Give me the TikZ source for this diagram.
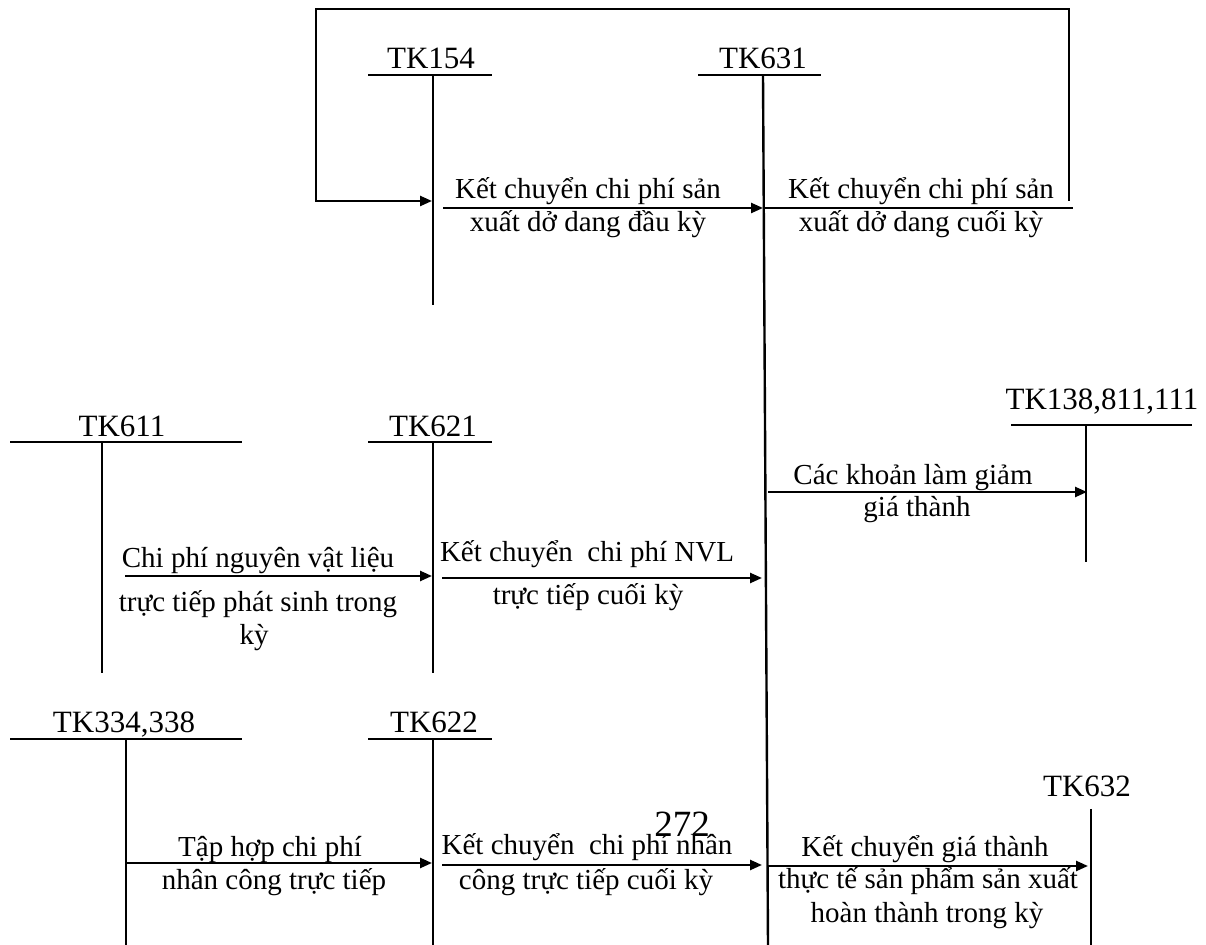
\documentclass[tikz,border=0pt]{standalone}
\usepackage{fontspec}
\setmainfont{Liberation Serif}
\usetikzlibrary{arrows.meta}
\begin{document}
\begin{tikzpicture}[x=0.5pt,y=-0.5pt,
  ln/.style={line width=1.2pt},
  arr/.style={line width=1.2pt,-{Triangle[length=6pt,width=5pt]}},
  acc/.style={anchor=base,inner sep=0pt,font=\fontsize{15.5}{18}\selectfont},
  lbl/.style={anchor=base,inner sep=0pt,font=\fontsize{14.5}{17}\selectfont},
  pg/.style={anchor=base,inner sep=0pt,font=\fontsize{18.5}{21}\selectfont}]
\useasboundingbox (0,0) rectangle (1206,945);

% ---- account labels ----
\node[acc] (l154) at (431,69) {TK154};
\node[acc] (l631) at (763,69) {TK631};
\node[acc] (l611) at (122,437) {TK611};
\node[acc] (l621) at (433,437) {TK621};
\node[acc] (l138) at (1102,410) {TK138,811,111};
\node[acc] (l334) at (124,733) {TK334,338};
\node[acc] (l622) at (434,733) {TK622};
\node[acc] (l632) at (1087,797) {TK632};
\node[pg] (p272) at (682,837) {272};

% ---- T-account lines ----
\coordinate (h154a) at (368,75);  \coordinate (h154b) at (492,75);
\coordinate (v154t) at (433,75);  \coordinate (v154b) at (433,305);
\coordinate (h631a) at (698,75);  \coordinate (h631b) at (821,75);
\coordinate (v631t) at (763,75);  \coordinate (v631b) at (768,945);
\coordinate (h611a) at (10,442);  \coordinate (h611b) at (242,442);
\coordinate (v611t) at (102,442); \coordinate (v611b) at (102,673);
\coordinate (h621a) at (368,442); \coordinate (h621b) at (492,442);
\coordinate (v621t) at (433,442); \coordinate (v621b) at (433,673);
\coordinate (h138a) at (1011,425); \coordinate (h138b) at (1192,425);
\coordinate (v138t) at (1086,425); \coordinate (v138b) at (1086,562);
\coordinate (h334a) at (10,739);  \coordinate (h334b) at (242,739);
\coordinate (v334t) at (126,739); \coordinate (v334b) at (126,945);
\coordinate (h622a) at (368,739); \coordinate (h622b) at (492,739);
\coordinate (v622t) at (433,739); \coordinate (v622b) at (433,945);
\coordinate (v632t) at (1091,809); \coordinate (v632b) at (1091,945);

\foreach \a in {154,631,611,621,138,334,622}{
  \draw[ln] (h\a a) -- (h\a b);
  \draw[ln] (v\a t) -- (v\a b);
}
\draw[ln] (v632t) -- (v632b);

% ---- connectors ----
\coordinate (lpR) at (1069,201); \coordinate (lpRT) at (1069,9);
\coordinate (lpLT) at (316,9);   \coordinate (lpL) at (316,201);
\coordinate (lpE) at (432,201);
\draw[arr] (lpR) -- (lpRT) -- (lpLT) -- (lpL) -- (lpE);

\coordinate (a1s) at (443,208); \coordinate (a1e) at (763,208);
\draw[arr] (a1s) -- (a1e);
\coordinate (a2e) at (1073,208);
\draw[ln] (a1e) -- (a2e);

\coordinate (a3s) at (125,576); \coordinate (a3e) at (432,576);
\draw[arr] (a3s) -- (a3e);
\coordinate (a4s) at (442,578); \coordinate (a4e) at (762,578);
\draw[arr] (a4s) -- (a4e);
\coordinate (a5s) at (768,492); \coordinate (a5e) at (1087,492);
\draw[arr] (a5s) -- (a5e);
\coordinate (a6s) at (126,863); \coordinate (a6e) at (432,863);
\draw[arr] (a6s) -- (a6e);
\coordinate (a7s) at (442,865); \coordinate (a7e) at (762,865);
\draw[arr] (a7s) -- (a7e);
\coordinate (a8s) at (768,866); \coordinate (a8e) at (1088,866);
\draw[arr] (a8s) -- (a8e);

% ---- connector labels ----
\node[lbl] (t1a) at (588,199) {Kết chuyển chi phí sản};
\node[lbl] (t1b) at (588,232) {xuất dở dang đầu kỳ};
\node[lbl] (t2a) at (921,199) {Kết chuyển chi phí sản};
\node[lbl] (t2b) at (921,232) {xuất dở dang cuối kỳ};
\node[lbl] (t3a) at (258,568) {Chi phí nguyên vật liệu};
\node[lbl] (t3b) at (258,612) {trực tiếp phát sinh trong};
\node[lbl] (t3c) at (254,645) {kỳ};
\node[lbl] (t4a) at (587,562) {Kết chuyển\ \ chi phí NVL};
\node[lbl] (t4b) at (588,605) {trực tiếp cuối kỳ};
\node[lbl] (t5a) at (913,485) {Các khoản làm giảm};
\node[lbl] (t5b) at (917,517) {giá thành};
\node[lbl] (t6a) at (270,857) {Tập hợp chi phí};
\node[lbl] (t6b) at (274,890) {nhân công trực tiếp};
\node[lbl] (t7a) at (587,855) {Kết chuyển\ \ chi phí nhân};
\node[lbl] (t7b) at (586,890) {công trực tiếp cuối kỳ};
\node[lbl] (t8a) at (925,857) {Kết chuyển giá thành};
\node[lbl] (t8b) at (928,889) {thực tế sản phẩm sản xuất};
\node[lbl] (t8c) at (927,923) {hoàn thành trong kỳ};
\end{tikzpicture}
\end{document}
